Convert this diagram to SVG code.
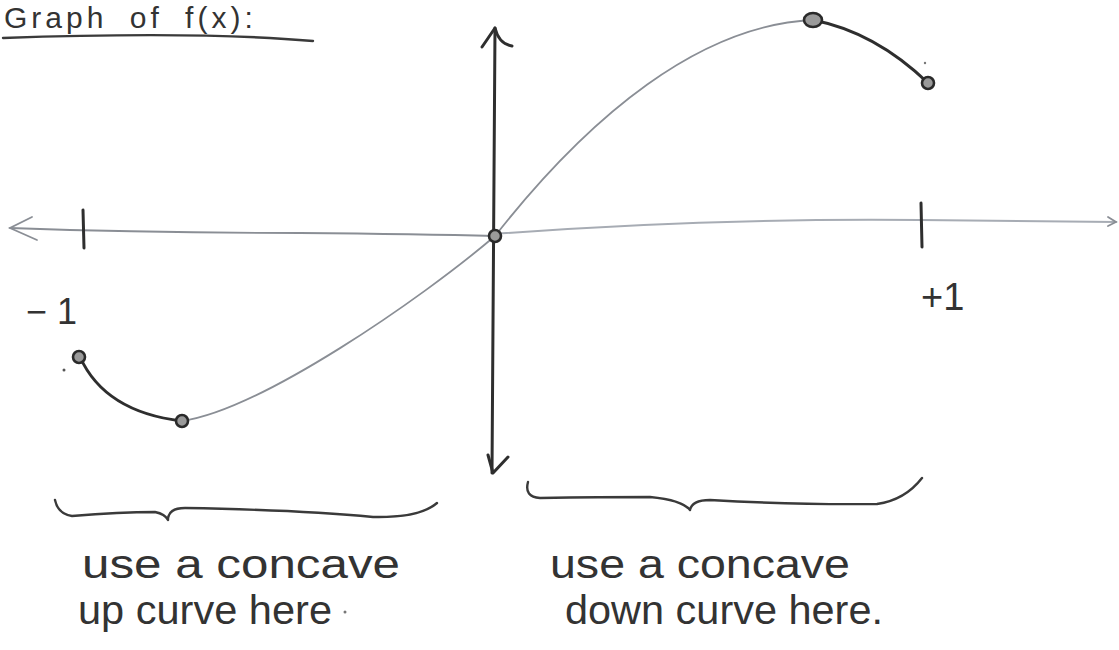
<svg xmlns="http://www.w3.org/2000/svg" width="1119" height="650" viewBox="0 0 1119 650">
<style>
.ink{fill:none;stroke:#3a3a3a;stroke-width:2.4;stroke-linecap:round;stroke-linejoin:round}
.dark{fill:none;stroke:#2e2e2e;stroke-width:3;stroke-linecap:round;stroke-linejoin:round}
.light{fill:none;stroke:#8a8e95;stroke-width:1.8;stroke-linecap:round}
.pale{fill:none;stroke:#a7acb4;stroke-width:2;stroke-linecap:round}
.dot{fill:#9a9a9a;stroke:#2a2a2a;stroke-width:2.6}
.hand{font-family:"Liberation Sans","DejaVu Sans",sans-serif;fill:#333}
</style>
<rect width="1119" height="650" fill="#fff"/>
<g id="title">
<text class="hand" x="4" y="28" style="font-size:30px;letter-spacing:4px;word-spacing:10px">Graph of f(x):</text>
<path class="ink" d="M3,38 Q200,31 313,41" stroke-width="2"/>
</g>
<g id="axes">
<path class="light" d="M10,228 Q150,233 300,233 Q420,234 495,236"/>
<path class="pale" d="M495,234 Q700,218 920,220 Q1020,221 1116,222"/>
<path class="light" d="M32,217 L10,228 L37,240"/>
<path class="light" d="M1108,217 L1116,222 L1108,226"/>
<path class="dark" d="M495,28 L492,473"/>
<path class="dark" d="M482,47 L495,28 Q499,44 512,46"/>
<path class="dark" d="M488,455 L493,473 L508,457"/>
</g>
<g id="ticks">
<path class="dark" d="M83,210 L84,248"/>
<path class="dark" d="M921,203 L922,247"/>
<text class="hand" x="26" y="324" style="font-size:36px">− 1</text>
<text class="hand" x="921" y="310" style="font-size:38px">+1</text>
</g>
<g id="curve">
<path class="dark" d="M80,357 Q105,412 182,421"/>
<path class="light" d="M182,421 C260,410 420,300 495,236 C590,115 700,25 813,20"/>
<path class="dark" d="M813,20 Q875,32 928,83" stroke-width="2.4"/>
</g>
<g id="points">
<circle class="dot" cx="79" cy="357" r="6"/>
<circle class="dot" cx="182" cy="421" r="6"/>
<circle class="dot" cx="495" cy="236" r="6"/>
<ellipse class="dot" cx="813" cy="20" rx="9" ry="7"/>
<circle class="dot" cx="928" cy="83" r="6"/>
<circle cx="64" cy="370" r="1.5" fill="#555"/>
<circle cx="925" cy="63" r="1.2" fill="#777"/>
</g>
<g id="brace-left">
<path class="ink" d="M55,500 Q58,514 72,516 Q120,512 155,512 Q165,514 168,520 Q168,508 185,508 Q300,510 373,517 Q420,518 437,503"/>
<text class="hand" x="82" y="578" style="font-size:40px" textLength="318" lengthAdjust="spacingAndGlyphs">use a concave</text>
<text class="hand" x="78" y="624" style="font-size:40px" textLength="254" lengthAdjust="spacingAndGlyphs">up curve here</text>
<circle cx="345" cy="612" r="1.5" fill="#777"/>
</g>
<g id="brace-right">
<path class="ink" d="M528,482 Q524,497 540,498 Q600,497 650,497 Q682,500 690,510 Q692,500 710,500 Q800,505 877,504 Q905,500 922,478"/>
<text class="hand" x="550" y="578" style="font-size:40px" textLength="300" lengthAdjust="spacingAndGlyphs">use a concave</text>
<text class="hand" x="565" y="624" style="font-size:40px" textLength="318" lengthAdjust="spacingAndGlyphs">down curve here.</text>
</g>
</svg>
